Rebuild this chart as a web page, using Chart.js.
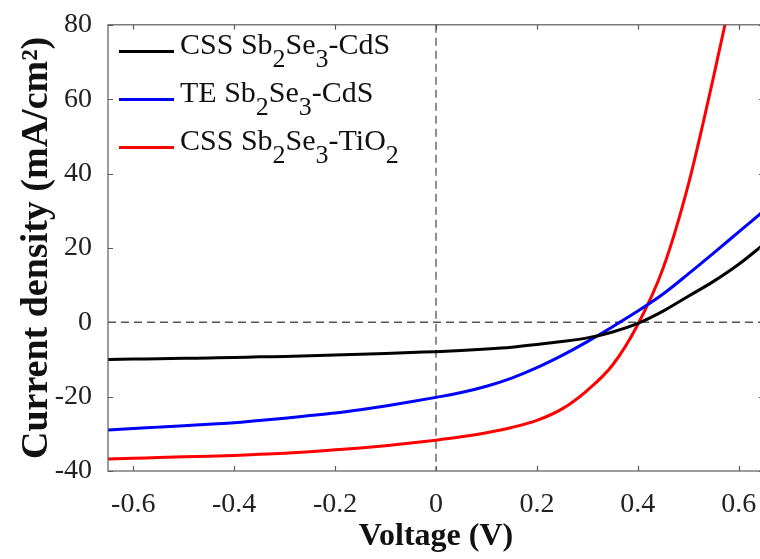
<!DOCTYPE html>
<html lang="en">
<head>
  <meta charset="UTF-8" />
  <title>J-V curves</title>
  <script src="https://cdn.jsdelivr.net/npm/chart.js"></script>
  <style>
    html, body { margin: 0; padding: 0; background: #fff; overflow: hidden; }
    #wrap { position: relative; width: 770px; height: 559px; }
    .legend-row {
      position: absolute; left: 119px; height: 30px;
      font-family: "Liberation Serif", "Times New Roman", serif;
      font-size: 30px; line-height: 30px; color: #111; white-space: nowrap;
    }
    .legend-row .swatch { position: absolute; left: 0; top: 21px; width: 55px; height: 3px; }
    .legend-row .label { position: absolute; left: 61px; top: 0; }
    .legend-row sub { font-size: 26px; vertical-align: -13px; line-height: 0; }
  </style>
</head>
<body>
  <div id="wrap">
    <canvas id="jv" width="770" height="559"></canvas>
    <div id="legend"></div>
  </div>

  <script>
    // voltage (V) and current density (mA/cm2)
    const voltage = [-0.65, -0.6, -0.55, -0.5, -0.45, -0.4, -0.35, -0.3, -0.25, -0.2, -0.15, -0.1, -0.05, 0,
      0.05, 0.1, 0.15, 0.2, 0.25, 0.3, 0.35, 0.4, 0.45, 0.5, 0.55, 0.6, 0.65];
    const cssCdS = [-10.0, -9.9, -9.8, -9.7, -9.6, -9.5, -9.3, -9.2, -9.0, -8.8, -8.6, -8.4, -8.1, -7.9,
      -7.6, -7.2, -6.7, -6.0, -5.2, -4.2, -2.6, -0.3, 3.0, 7.0, 11.0, 15.6, 21.0];
    const teCdS = [-29.0, -28.6, -28.2, -27.8, -27.4, -27.0, -26.4, -25.8, -25.1, -24.4, -23.5, -22.5, -21.4, -20.2,
      -18.9, -17.2, -15.0, -12.2, -8.9, -5.2, -1.2, 3.0, 7.6, 13.0, 18.6, 24.3, 30.0];
    const cssTiO2 = [-36.8, -36.6, -36.4, -36.2, -36.0, -35.8, -35.5, -35.2, -34.8, -34.3, -33.8, -33.2, -32.5, -31.7,
      -30.8, -29.7, -28.3, -26.4, -23.3, -18.3, -11.5, -0.6, 14.5, 37, 66, 97, 130];

    const seriesNames = ['CSS Sb<sub>2</sub>Se<sub>3</sub>-CdS', 'TE Sb<sub>2</sub>Se<sub>3</sub>-CdS', 'CSS Sb<sub>2</sub>Se<sub>3</sub>-TiO<sub>2</sub>'];
    const seriesColors = ['#000000', '#0000ff', '#ff0000'];
    const seriesValues = [cssCdS, teCdS, cssTiO2];

    const xTicks = [-0.6, -0.4, -0.2, 0, 0.2, 0.4, 0.6];
    const yTicks = [-40, -20, 0, 20, 40, 60, 80];

    const axisColor = '#5a5a5a';
    const textColor = '#222';

    // box, inward ticks and the dashed zero lines
    const framePlugin = {
      id: 'frame',
      beforeDatasetsDraw(chart) {
        const { ctx, chartArea: a, scales: { x, y } } = chart;
        const x0 = x.getPixelForValue(0), y0 = y.getPixelForValue(0);
        ctx.save();
        ctx.strokeStyle = '#555';
        ctx.lineWidth = 1.3;
        ctx.setLineDash([8, 5]);
        ctx.beginPath();
        ctx.moveTo(a.left, y0); ctx.lineTo(a.right, y0);
        ctx.moveTo(x0, a.top); ctx.lineTo(x0, a.bottom);
        ctx.stroke();
        ctx.restore();
      },
      afterDatasetsDraw(chart) {
        const { ctx, chartArea: a, scales: { x, y } } = chart;
        ctx.save();
        ctx.strokeStyle = axisColor;
        ctx.lineWidth = 1.2;
        ctx.strokeRect(a.left, a.top, a.right - a.left, a.bottom - a.top);
        ctx.beginPath();
        xTicks.forEach(v => {
          const px = Math.round(x.getPixelForValue(v)) + 0.5;
          ctx.moveTo(px, a.bottom); ctx.lineTo(px, a.bottom - 5);
          ctx.moveTo(px, a.top); ctx.lineTo(px, a.top + 5);
        });
        yTicks.forEach(v => {
          const py = Math.round(y.getPixelForValue(v)) + 0.5;
          ctx.moveTo(a.left, py); ctx.lineTo(a.left + 5, py);
          ctx.moveTo(a.right, py); ctx.lineTo(a.right - 5, py);
        });
        ctx.stroke();
        ctx.restore();
      }
    };

    const datasets = seriesValues.map((vals, i) => ({
      label: seriesNames[i].replace(/<\/?sub>/g, ''),
      data: voltage.map((v, k) => ({ x: v, y: vals[k] })),
      borderColor: seriesColors[i],
      borderWidth: 3,
      pointRadius: 0,
      fill: false,
      cubicInterpolationMode: 'monotone'
    }));

    const serif = 'Liberation Serif, Times New Roman, serif';

    new Chart(document.getElementById('jv'), {
      type: 'line',
      data: { datasets },
      options: {
        responsive: false,
        animation: false,
        devicePixelRatio: 1,
        layout: { padding: { top: 17, right: 6, left: 0, bottom: 0 } },
        plugins: { legend: { display: false }, tooltip: { enabled: false } },
        scales: {
          x: {
            type: 'linear',
            min: -0.65,
            max: 0.65,
            afterBuildTicks: s => { s.ticks = xTicks.map(v => ({ value: v })); },
            afterFit: s => { s.height = 88; },
            grid: { display: false },
            border: { display: false },
            ticks: {
              color: textColor, padding: 9, maxRotation: 0,
              font: { family: serif, size: 28 },
              callback: v => String(v)
            },
            title: {
              display: true, text: 'Voltage (V)', color: '#111',
              font: { family: serif, size: 32, weight: 'bold' },
              padding: { top: 0, bottom: 3 }
            }
          },
          y: {
            type: 'linear',
            min: -40,
            max: 80,
            afterBuildTicks: s => { s.ticks = yTicks.map(v => ({ value: v })); },
            afterFit: s => { s.width = 108; },
            grid: { display: false },
            border: { display: false },
            ticks: {
              color: textColor, padding: 8,
              font: { family: serif, size: 28 }
            },
            title: {
              display: true, text: 'Current density (mA/cm\u00B2)', color: '#111',
              font: { family: serif, size: 38, weight: 'bold' },
              padding: { top: 14, bottom: 0 }
            }
          }
        }
      },
      plugins: [framePlugin]
    });

    // legend with real subscripts
    const legendTops = [29, 77, 125];
    const legend = document.getElementById('legend');
    seriesNames.forEach((name, i) => {
      const row = document.createElement('div');
      row.className = 'legend-row';
      row.style.top = legendTops[i] + 'px';
      row.innerHTML = `<span class="swatch" style="background:${seriesColors[i]}"></span><span class="label">${name}</span>`;
      legend.appendChild(row);
    });
  </script>
</body>
</html>
